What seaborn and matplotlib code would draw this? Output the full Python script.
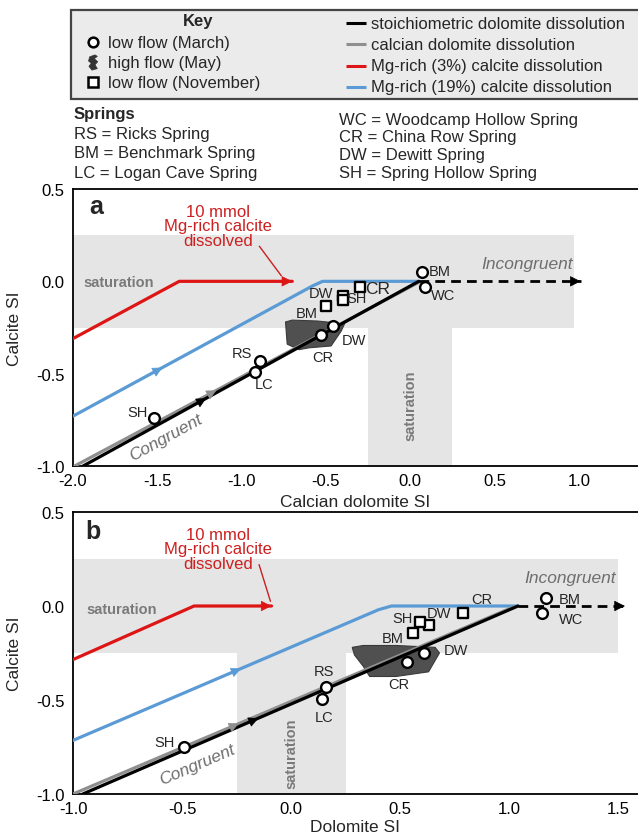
import numpy as np
import matplotlib
matplotlib.use("Agg")
import matplotlib.pyplot as plt
from matplotlib.path import Path
import seaborn as sns

# ---------------- panel a : calcian dolomite SI vs calcite SI ----------------
a_march_site = ["BM", "WC", "CR", "DW", "RS", "LC", "SH"]
a_march_x = [0.07, 0.09, -0.53, -0.46, -0.89, -0.92, -1.52]
a_march_y = [0.05, -0.03, -0.29, -0.24, -0.43, -0.49, -0.74]
a_nov_site = ["CR", "DW", "SH", "BM"]
a_nov_x = [-0.30, -0.40, -0.40, -0.50]
a_nov_y = [-0.03, -0.08, -0.10, -0.135]
a_may_x = [-0.74, -0.70, -0.55, -0.39, -0.41, -0.47, -0.60, -0.66, -0.73]
a_may_y = [-0.22, -0.21, -0.215, -0.23, -0.27, -0.35, -0.36, -0.37, -0.34]
a_stoich_x = [-1.94, 0.05]
a_stoich_y = [-1.0, 0.0]
a_calcian_x = [-1.99, 0.05]
a_calcian_y = [-1.0, -0.005]
a_mg3_x = [-2.0, -1.37, -0.70]
a_mg3_y = [-0.31, 0.0, 0.0]
a_mg19_x = [-2.0, -0.58, -0.52, 0.05]
a_mg19_y = [-0.73, -0.025, 0.0, 0.0]
a_incong_x = [0.05, 1.01]
a_incong_y = [0.0, 0.0]
a_sat_h = [-2.0, 0.97]      # horizontal saturation band (x range, y = +-0.25)
a_sat_v = [-0.25, 0.25]     # vertical saturation band (x range)

# ---------------- panel b : dolomite SI vs calcite SI ----------------
b_march_site = ["BM", "WC", "CR", "DW", "RS", "LC", "SH"]
b_march_x = [1.17, 1.15, 0.53, 0.61, 0.16, 0.14, -0.49]
b_march_y = [0.045, -0.035, -0.30, -0.25, -0.43, -0.495, -0.75]
b_nov_site = ["CR", "DW", "SH", "BM"]
b_nov_x = [0.79, 0.63, 0.59, 0.56]
b_nov_y = [-0.035, -0.10, -0.085, -0.145]
b_may_x = [0.28, 0.33, 0.48, 0.66, 0.68, 0.63, 0.48, 0.36, 0.33, 0.29]
b_may_y = [-0.22, -0.21, -0.21, -0.22, -0.25, -0.35, -0.375, -0.375, -0.32, -0.26]
b_stoich_x = [-0.955, 1.04]
b_stoich_y = [-1.0, 0.0]
b_calcian_x = [-1.0, 1.02]
b_calcian_y = [-1.0, -0.005]
b_mg3_x = [-1.0, -0.445, -0.09]
b_mg3_y = [-0.285, 0.0, 0.0]
b_mg19_x = [-1.0, 0.40, 0.46, 1.04]
b_mg19_y = [-0.715, -0.02, 0.0, 0.0]
b_incong_x = [1.04, 1.53]
b_incong_y = [0.0, 0.0]
b_sat_h = [-1.0, 1.5]
b_sat_v = [-0.25, 0.25]

spring_left = ["RS = Ricks Spring", "BM = Benchmark Spring", "LC = Logan Cave Spring"]
spring_right = ["WC = Woodcamp Hollow Spring", "CR = China Row Spring",
                "DW = Dewitt Spring", "SH = Spring Hollow Spring"]
key_lines = ["stoichiometric dolomite dissolution", "calcian dolomite dissolution",
             "Mg-rich (3%) calcite dissolution", "Mg-rich (19%) calcite dissolution"]
key_marks = ["low flow (March)", "high flow (May)", "low flow (November)"]

BLACK, GREY, RED, BLUE = "black", "#8f8f8f", "#dd1515", "#5b9bd5"
SAT = "#e5e5e5"

sns.set_theme(style="white")
plt.rcParams["font.family"] = ["Liberation Sans", "DejaVu Sans"]

fig = plt.figure(figsize=(6.38, 8.37), dpi=100)
W, H = 638, 837
ax_a = fig.add_axes([73 / W, 1 - 467 / H, 565 / W, 277 / H])
ax_b = fig.add_axes([73 / W, 1 - 795 / H, 565 / W, 282 / H])

blob = Path([(0.2, 1.0), (-0.5, 0.75), (-0.65, 0.2), (-0.3, -0.1), (-0.6, -0.5),
             (-0.2, -1.0), (0.5, -0.8), (0.2, -0.3), (0.55, 0.1), (0.1, 0.5),
             (0.5, 0.8), (0.2, 1.0)])


def mid_arrow(ax, xs, ys, xpos, color):
    # arrowhead placed on the first segment of a line, pointing along it
    x0, x1, y0, y1 = xs[0], xs[1], ys[0], ys[1]
    t = (xpos - x0) / (x1 - x0)
    px, py = x0 + t * (x1 - x0), y0 + t * (y1 - y0)
    dx, dy = (x1 - x0) * 0.02, (y1 - y0) * 0.02
    ax.annotate("", xy=(px, py), xytext=(px - dx, py - dy),
                arrowprops=dict(arrowstyle="-|>", color=color, lw=0.5,
                                mutation_scale=16, shrinkA=0, shrinkB=0), zorder=4)


def end_arrow(ax, xs, ys, color):
    ax.annotate("", xy=(xs[-1], ys[-1]), xytext=(xs[-1] - 0.05, ys[-1]),
                arrowprops=dict(arrowstyle="-|>", color=color, lw=0.5,
                                mutation_scale=17, shrinkA=0, shrinkB=0), zorder=4)


def draw_panel(ax, d):
    xl, xr = d["xlim"]
    ax.set_xlim(xl, xr)
    ax.set_ylim(-1.0, 0.5)
    # saturation zones
    ax.fill_between(d["sat_h"], -0.25, 0.25, color=SAT, lw=0, zorder=0)
    ax.fill_between(d["sat_v"], -1.0, -0.25, color=SAT, lw=0, zorder=0)

    # dissolution paths
    for key, col in [("mg3", RED), ("mg19", BLUE), ("calcian", GREY), ("stoich", BLACK)]:
        sns.lineplot(x=d[key + "_x"], y=d[key + "_y"], sort=False, estimator=None,
                     color=col, lw=2.3, ax=ax, zorder=3)
    sns.lineplot(x=d["incong_x"], y=d["incong_y"], sort=False, estimator=None,
                 color=BLACK, lw=2.0, ax=ax, zorder=3)
    ax.lines[-1].set_linestyle((0, (3.5, 2.2)))
    end_arrow(ax, d["incong_x"], d["incong_y"], BLACK)
    end_arrow(ax, d["mg3_x"], d["mg3_y"], RED)
    for key, col in [("mg19", BLUE), ("calcian", GREY), ("stoich", BLACK)]:
        mid_arrow(ax, d[key + "_x"], d[key + "_y"], d["arrow_at"][key], col)

    # high flow field
    ax.fill(d["may_x"], d["may_y"], facecolor="#505050", edgecolor="#3a3a3a",
            lw=0.8, zorder=2)

    sns.scatterplot(x=d["nov_x"], y=d["nov_y"], marker="s", s=55, color="white",
                    edgecolor="black", linewidth=1.7, ax=ax, zorder=5)
    sns.scatterplot(x=d["march_x"], y=d["march_y"], marker="o", s=60, color="white",
                    edgecolor="black", linewidth=1.7, ax=ax, zorder=6)

    for s, x, y, off in zip(d["march_site"], d["march_x"], d["march_y"], d["march_off"]):
        ax.annotate(s, (x, y), xytext=off, textcoords="offset points",
                    ha="center", va="center", fontsize=10.5, zorder=7)
    for s, x, y, off, fs in zip(d["nov_site"], d["nov_x"], d["nov_y"], d["nov_off"], d["nov_fs"]):
        ax.annotate(s, (x, y), xytext=off, textcoords="offset points",
                    ha="center", va="center", fontsize=fs, zorder=7)

    # texts
    ax.text(*d["sat_txt"], "saturation", color="#7a7a7a", fontweight="bold",
            fontsize=10.5, ha="left", va="center")
    ax.text(*d["vsat_txt"], "saturation", color="#7a7a7a", fontweight="bold",
            fontsize=10.5, ha="center", va="center", rotation=90)
    ax.text(*d["incong_txt"], "Incongruent", color="#6e6e6e", style="italic",
            fontsize=12.5, ha="center", va="center")
    p0 = ax.transData.transform((d["stoich_x"][0], d["stoich_y"][0]))
    p1 = ax.transData.transform((d["stoich_x"][1], d["stoich_y"][1]))
    ang = np.degrees(np.arctan2(p1[1] - p0[1], p1[0] - p0[0]))
    ax.text(*d["cong_txt"], "Congruent", color="#6e6e6e", style="italic",
            fontsize=12.5, ha="center", va="center", rotation=ang,
            rotation_mode="anchor")
    ax.text(*d["red_txt"], "10 mmol\nMg-rich calcite\ndissolved", color="#cc1f1f",
            fontsize=12, ha="center", va="center", linespacing=0.95)
    ax.annotate("", xy=d["red_arrow"][1], xytext=d["red_arrow"][0],
                arrowprops=dict(arrowstyle="-", color="#cc1f1f", lw=1.0,
                                shrinkA=0, shrinkB=0))
    ax.text(*d["panel_txt"], d["panel"], fontweight="bold", fontsize=18,
            ha="center", va="center")

    ax.set_xticks(d["xticks"])
    ax.set_xticklabels([f"{t:.1f}" for t in d["xticks"]])
    ax.set_yticks([-1.0, -0.5, 0.0, 0.5])
    ax.set_yticklabels(["-1.0", "-0.5", "0.0", "0.5"])
    ax.tick_params(axis="both", direction="out", length=4, width=1.2,
                   labelsize=12, pad=2, colors="black")
    ax.tick_params(axis="x", pad=1)
    ax.spines["right"].set_visible(False)
    for sp in ["top", "left", "bottom"]:
        ax.spines[sp].set_color("black")
        ax.spines[sp].set_linewidth(1.3)
    ax.set_xlabel(d["xlabel"], fontsize=12.5)
    ax.set_ylabel("Calcite SI", fontsize=12.5)
    ax.xaxis.set_label_coords(0.5, d["xlabel_y"])
    ax.xaxis.label.set_verticalalignment("center")
    ax.yaxis.set_label_coords(-0.103, 0.5)
    ax.yaxis.label.set_verticalalignment("center")


panel_a = dict(
    panel="a", xlim=(-2.0, 1.35), xticks=[-2.0, -1.5, -1.0, -0.5, 0.0, 0.5, 1.0],
    xlabel="Calcian dolomite SI", xlabel_y=-0.127,
    march_site=a_march_site, march_x=a_march_x, march_y=a_march_y,
    nov_site=a_nov_site, nov_x=a_nov_x, nov_y=a_nov_y,
    may_x=a_may_x, may_y=a_may_y,
    stoich_x=a_stoich_x, stoich_y=a_stoich_y, calcian_x=a_calcian_x, calcian_y=a_calcian_y,
    mg3_x=a_mg3_x, mg3_y=a_mg3_y, mg19_x=a_mg19_x, mg19_y=a_mg19_y,
    incong_x=a_incong_x, incong_y=a_incong_y, sat_h=a_sat_h, sat_v=a_sat_v,
    arrow_at={"mg19": -1.47, "calcian": -1.15, "stoich": -1.21},
    march_off=[(13, 1), (13, -6), (1.5, -16), (15, -10), (-13, 5.5), (6.5, -8.5), (-12, 4.5)],
    nov_off=[(13, -1), (-16, 2), (10, 1.5), (-14, -5)],
    nov_fs=[12.5, 10.5, 10.5, 10.5],
    sat_txt=(-1.94, -0.005), vsat_txt=(0.0, -0.67), incong_txt=(0.69, 0.095),
    cong_txt=(-1.45, -0.84), red_txt=(-1.14, 0.30),
    red_arrow=[(-0.895, 0.19), (-0.765, 0.03)], panel_txt=(-1.86, 0.41),
)
panel_b = dict(
    panel="b", xlim=(-1.0, 1.59), xticks=[-1.0, -0.5, 0.0, 0.5, 1.0, 1.5],
    xlabel="Dolomite SI", xlabel_y=-0.115,
    march_site=b_march_site, march_x=b_march_x, march_y=b_march_y,
    nov_site=b_nov_site, nov_x=b_nov_x, nov_y=b_nov_y,
    may_x=b_may_x, may_y=b_may_y,
    stoich_x=b_stoich_x, stoich_y=b_stoich_y, calcian_x=b_calcian_x, calcian_y=b_calcian_y,
    mg3_x=b_mg3_x, mg3_y=b_mg3_y, mg19_x=b_mg19_x, mg19_y=b_mg19_y,
    incong_x=b_incong_x, incong_y=b_incong_y, sat_h=b_sat_h, sat_v=b_sat_v,
    arrow_at={"mg19": -0.23, "calcian": -0.24, "stoich": -0.15},
    march_off=[(16.5, -1), (21, -4.3), (-6, -15.6), (23, 2.4), (-1.7, 11.4), (1.4, -12.7), (-14.5, 3.4)],
    nov_off=[(13.5, 10), (7.7, 8.6), (-12.4, 2.6), (-14.6, -3.6)],
    nov_fs=[10.5, 10.5, 10.5, 10.5],
    sat_txt=(-0.94, -0.015), vsat_txt=(0.0, -0.78), incong_txt=(1.28, 0.15),
    cong_txt=(-0.43, -0.84), red_txt=(-0.335, 0.305),
    red_arrow=[(-0.147, 0.22), (-0.095, 0.025)], panel_txt=(-0.91, 0.40),
)

draw_panel(ax_a, panel_a)
draw_panel(ax_b, panel_b)

# ---------------- header: key box and spring names ----------------
hdr = fig.add_axes([0, 0, 1, 1], zorder=-1)
hdr.set_xlim(0, W)
hdr.set_ylim(H, 0)
hdr.axis("off")
hdr.add_patch(plt.Rectangle((71, 11), 600, 89, facecolor="#ebebeb",
                            edgecolor="#444444", lw=1.6, clip_on=False))
hdr.text(198, 21, "Key", fontweight="bold", fontsize=12, ha="center", va="center")
marks = [dict(marker="o", mfc="white", mec="black", mew=1.8, ms=7),
         dict(marker=blob, mfc="#333333", mec="#333333", mew=0.5, ms=11),
         dict(marker="s", mfc="white", mec="black", mew=1.8, ms=7)]
for i, (lab, mk) in enumerate(zip(key_marks, marks)):
    yy = 43 + 20 * i
    hdr.plot([93], [yy], ls="none", **mk)
    hdr.text(108, yy, lab, fontsize=12, ha="left", va="center")
for i, (lab, col) in enumerate(zip(key_lines, [BLACK, GREY, RED, BLUE])):
    yy = 24 + 21.3 * i
    hdr.plot([346, 366], [yy, yy], color=col, lw=2.2, solid_capstyle="butt")
    hdr.text(371, yy, lab, fontsize=12, ha="left", va="center")

hdr.text(74, 114, "Springs", fontweight="bold", fontsize=12, ha="left", va="center")
for i, lab in enumerate(spring_left):
    hdr.text(74, 134 + 19.5 * i, lab, fontsize=12, ha="left", va="center")
for i, lab in enumerate(spring_right):
    hdr.text(339, 120 + 17.7 * i, lab, fontsize=12, ha="left", va="center")

fig.savefig("out.png", dpi=100)
